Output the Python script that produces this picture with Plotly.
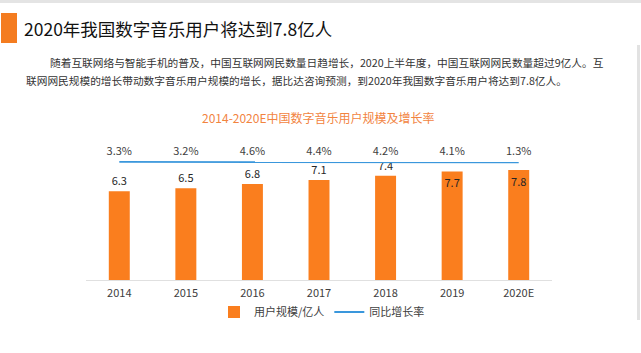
import plotly.graph_objects as go

years = ["2014", "2015", "2016", "2017", "2018", "2019", "2020E"]
users = [6.3, 6.5, 6.8, 7.1, 7.4, 7.7, 7.8]
growth = [3.3, 3.2, 4.6, 4.4, 4.2, 4.1, 1.3]
growth_labels = ["3.3%", "3.2%", "4.6%", "4.4%", "4.2%", "4.1%", "1.3%"]
bar_text_pos = ["outside", "outside", "outside", "outside", "outside", "inside", "inside"]

title = "2020年我国数字音乐用户将达到7.8亿人"
para1 = "随着互联网络与智能手机的普及，中国互联网网民数量日趋增长，2020上半年度，中国互联网网民数量超过9亿人。互"
para2 = "联网网民规模的增长带动数字音乐用户规模的增长，据比达咨询预测，到2020年我国数字音乐用户将达到7.8亿人。"
chart_title = "2014-2020E中国数字音乐用户规模及增长率"

W, H = 641, 353
L, R, T, B = 86, 89, 130, 73
PW, PH = W - L - R, H - T - B
FONT = "Noto Sans CJK SC, Noto Sans, sans-serif"


def px(x):
    return (x - L) / PW


def py(y):
    return (H - B - y) / PH


fig = go.Figure()
fig.add_trace(go.Bar(
    x=years, y=users, name="用户规模/亿人",
    marker=dict(color="#FA7E1E", line=dict(width=0)),
    text=[f"{v:.1f}" for v in users], textposition=bar_text_pos,
    insidetextanchor="end", constraintext="none",
    textfont=dict(size=11, color="#262626", family=FONT),
    outsidetextfont=dict(size=11, color="#262626", family=FONT),
    insidetextfont=dict(size=11, color="#262626", family=FONT),
    cliponaxis=False,
))
fig.add_trace(go.Scatter(
    x=years, y=growth, name="同比增长率", yaxis="y2",
    mode="lines", line=dict(color="#3A97DC", width=1.8),
    cliponaxis=False,
))
# growth labels, drawn on a twin axis shifted so they sit above the line
fig.add_trace(go.Scatter(
    x=years, y=growth, yaxis="y3", mode="text", showlegend=False,
    text=growth_labels, textposition="middle center",
    textfont=dict(size=11, color="#404040", family=FONT),
    cliponaxis=False, hoverinfo="skip",
))

# secondary axis: wide range so the growth line sits flat near the top
span = 1000.0
frac = py(162)
lo = 3.0 - frac * span
lo3 = 3.0 - py(152) * span

shapes = [
    dict(type="rect", xref="paper", yref="paper", x0=px(0), x1=px(641), y0=py(0), y1=py(3),
         fillcolor="#e4e4e4", line=dict(width=0), layer="below"),
    dict(type="rect", xref="paper", yref="paper", x0=px(1), x1=px(17), y0=py(13), y1=py(43),
         fillcolor="#F47C20", line=dict(width=0)),
    dict(type="rect", xref="paper", yref="paper", x0=px(637), x1=px(640), y0=py(45), y1=py(320),
         fillcolor="#e2e2e2", line=dict(width=0), layer="below"),
]

annotations = [
    dict(text=title, xref="paper", yref="paper", x=px(22), y=py(28), xanchor="left", yanchor="middle",
         showarrow=False, font=dict(size=17.5, color="#111111", family=FONT)),
    dict(text=para1, xref="paper", yref="paper", x=px(48), y=py(62), xanchor="left", yanchor="middle",
         showarrow=False, font=dict(size=10.7, color="#333333", family=FONT)),
    dict(text=para2, xref="paper", yref="paper", x=px(24), y=py(80), xanchor="left", yanchor="middle",
         showarrow=False, font=dict(size=10.7, color="#333333", family=FONT)),
    dict(text=chart_title, xref="paper", yref="paper", x=px(318), y=py(118), xanchor="center", yanchor="middle",
         showarrow=False, font=dict(size=12, color="#F2843F", family=FONT)),
]

fig.update_layout(
    width=W, height=H, margin=dict(l=L, r=R, t=T, b=B, pad=0),
    paper_bgcolor="white", plot_bgcolor="white",
    font=dict(family=FONT, size=11, color="#404040"),
    bargap=0.685, showlegend=True,
    legend=dict(orientation="h", x=px(322), y=py(312), xanchor="center", yanchor="middle",
                font=dict(size=11, color="#404040", family=FONT), bgcolor="rgba(0,0,0,0)",
                itemwidth=30, tracegroupgap=0),
    xaxis=dict(type="category", showgrid=False, showline=True, linecolor="#e0e0e0", linewidth=1,
               ticks="", ticklabelstandoff=3,
               tickfont=dict(size=11, color="#404040", family=FONT), zeroline=False),
    yaxis=dict(range=[0, PH / 14.1], visible=False, showgrid=False, zeroline=False),
    yaxis2=dict(range=[lo, lo + span], overlaying="y", visible=False, showgrid=False, zeroline=False),
    yaxis3=dict(range=[lo3, lo3 + span], overlaying="y", visible=False, showgrid=False, zeroline=False),
    shapes=shapes, annotations=annotations,
)

fig.write_html("out.html")
